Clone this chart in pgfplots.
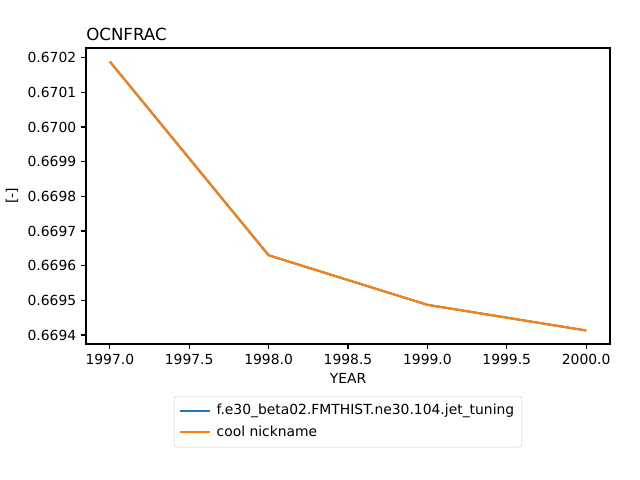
\documentclass[border=0pt]{standalone}
\usepackage{fontspec}
\setmainfont{DejaVu Sans}
\usepackage{pgfplots}
\pgfplotsset{compat=1.18}
\definecolor{mplblue}{HTML}{1F77B4}
\definecolor{mplorange}{HTML}{FF7F0E}
\begin{document}
\begin{tikzpicture}
\path[use as bounding box] (-61.92pt,-97.92pt) rectangle (398.88pt,247.68pt);
\begin{axis}[
    at={(0,0)}, anchor=south west,
    scale only axis,
    width=377.28pt, height=213.12pt,
    xmin=1996.85, xmax=2000.15,
    ymin=0.669374, ymax=0.670228,
    xtick={1997,1997.5,1998,1998.5,1999,1999.5,2000},
    ytick={0.6694,0.6695,0.6696,0.6697,0.6698,0.6699,0.6700,0.6701,0.6702},
    xticklabel style={/pgf/number format/.cd,fixed,fixed zerofill,precision=1,1000 sep={}},
    yticklabel style={/pgf/number format/.cd,fixed,fixed zerofill,precision=4},
    scaled y ticks=false, scaled x ticks=false,
    /pgf/number format/assume math mode=true,
    tick align=outside, xtick pos=bottom, ytick pos=left,
    major tick length=3.5pt,
    tick style={black, line width=0.8pt},
    axis line style={line width=0.8pt},
    tick label style={font=\fontsize{10}{12}\selectfont},
    label style={font=\fontsize{10}{12}\selectfont},
    xlabel={YEAR}, ylabel={[-]},
    title={OCNFRAC},
    title style={at={(0,1)}, anchor=south west, inner sep=0pt, yshift=-1.3pt,
        font=\fontsize{12}{14}\selectfont},
    legend style={at={(0.5,-0.175)}, anchor=north, draw=black!20, rounded corners=2pt,
        font=\fontsize{10}{12}\selectfont, cells={anchor=west}, inner xsep=3.5pt, inner ysep=4pt,
        row sep=2.5pt},
    legend image code/.code={\draw[#1, line width=1.5pt] (0pt,0pt) -- (21.6pt,0pt); \path (23.6pt,0pt);},
    legend cell align={left},
]
\addplot[mplblue, line width=1.5pt] coordinates {(1997,0.670189) (1998,0.669630) (1999,0.669487) (2000,0.669413)};
\addplot[mplorange, line width=1.5pt] coordinates {(1997,0.670189) (1998,0.669630) (1999,0.669487) (2000,0.669413)};
\legend{f.e30\_beta02.FMTHIST.ne30.104.jet\_tuning, cool nickname}
\end{axis}
\end{tikzpicture}
\end{document}
